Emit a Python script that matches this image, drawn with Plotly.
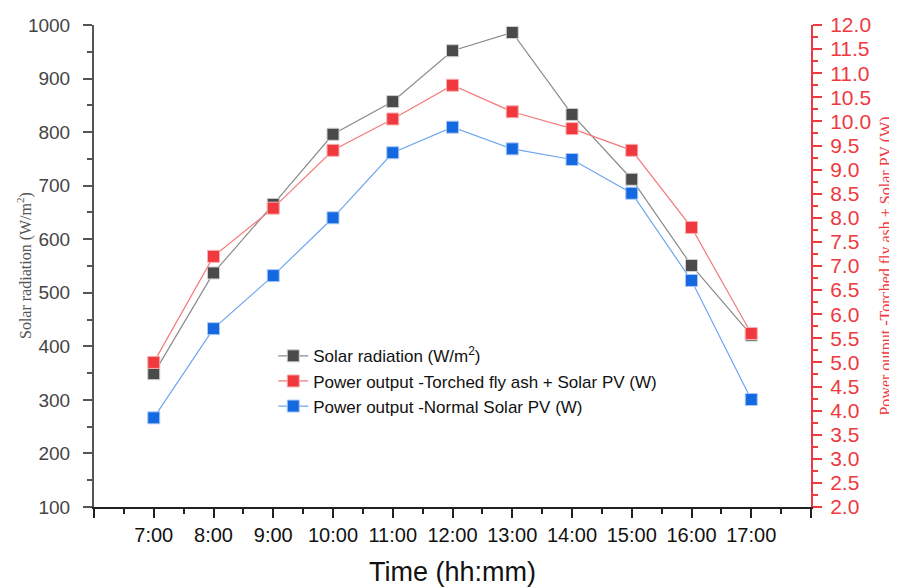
import plotly.graph_objects as go

times = ["7:00", "8:00", "9:00", "10:00", "11:00", "12:00", "13:00", "14:00", "15:00", "16:00", "17:00"]
solar_radiation = [349, 537, 665, 796, 857, 952, 986, 833, 712, 551, 421]
power_torched = [5.0, 7.2, 8.2, 9.4, 10.05, 10.75, 10.2, 9.85, 9.4, 7.8, 5.6]
power_normal = [3.85, 5.7, 6.8, 8.0, 9.35, 9.88, 9.43, 9.21, 8.51, 6.7, 4.23]

x_idx = list(range(len(times)))
tick_vals = [-1] + x_idx + [len(times)]
tick_text = [""] + times + [""]

fig = go.Figure()
fig.add_trace(go.Scatter(
    x=x_idx, y=solar_radiation, mode="lines+markers",
    name="Solar radiation (W/m<sup>2</sup>)",
    line=dict(color="#8a8a8a", width=1.2),
    marker=dict(symbol="square", size=12, color="#4a4a4a", line=dict(color="#cfcfcf", width=1)),
    yaxis="y"))
fig.add_trace(go.Scatter(
    x=x_idx, y=power_torched, mode="lines+markers",
    name="Power output -Torched fly ash + Solar PV (W)",
    line=dict(color="#f47a7a", width=1.2),
    marker=dict(symbol="square", size=12, color="#f0393f", line=dict(color="#f9b0b0", width=1)),
    yaxis="y2"))
fig.add_trace(go.Scatter(
    x=x_idx, y=power_normal, mode="lines+markers",
    name="Power output -Normal Solar PV (W)",
    line=dict(color="#6ea5f0", width=1.2),
    marker=dict(symbol="square", size=12, color="#1569e0", line=dict(color="#a9c9f5", width=1)),
    yaxis="y2"))

fig.add_annotation(
    text="Solar radiation (W/m<sup>2</sup>)", xref="paper", yref="paper",
    x=(24 - 94) / 717, y=0.5, xanchor="center", yanchor="middle", textangle=-90,
    showarrow=False,
    font=dict(size=16, family="Liberation Serif, Times New Roman, serif", color="#555"))

fig.update_layout(
    width=889, height=579,
    margin=dict(l=86, r=86, t=17, b=80),
    paper_bgcolor="white", plot_bgcolor="white",
    font=dict(family="Liberation Sans, Arial, sans-serif", color="#222"),
    showlegend=True,
    legend=dict(x=0.25, y=0.35, xanchor="left", yanchor="top",
                font=dict(size=17, color="#111"), bgcolor="rgba(0,0,0,0)",
                tracegroupgap=0, itemwidth=30),
    xaxis=dict(
        range=[-1, len(times)], tickmode="array", tickvals=tick_vals, ticktext=tick_text,
        automargin=False,
        showgrid=False, zeroline=False, showline=True, linecolor="#222", linewidth=2,
        ticks="outside", ticklen=9, tickwidth=1.5, tickcolor="#222",
        tickfont=dict(size=20, color="#111"),
        minor=dict(tickmode="linear", tick0=-1, dtick=0.5, ticks="outside", ticklen=5, tickcolor="#222", tickwidth=1.5),
        title=dict(text="Time (hh:mm)", font=dict(size=27, color="#111"), standoff=20),
    ),
    yaxis=dict(
        range=[100, 1000], dtick=100, tick0=100, automargin=False,
        showgrid=False, zeroline=False, showline=True, linecolor="#555", linewidth=2,
        ticks="outside", ticklen=9, tickwidth=1.5, tickcolor="#555",
        tickfont=dict(size=19, color="#444"), ticklabelstandoff=9,
        minor=dict(dtick=50, tick0=100, ticks="outside", ticklen=5, tickcolor="#555", tickwidth=1.5),
    ),
    yaxis2=dict(
        range=[2, 12], dtick=0.5, tick0=2, tickformat=".1f", overlaying="y", side="right",
        automargin=False,
        showgrid=False, zeroline=False, showline=True, linecolor="#f0393f", linewidth=2,
        ticks="outside", ticklen=9, tickwidth=1.5, tickcolor="#f0393f",
        tickfont=dict(size=21, color="#f0393f"), ticklabelstandoff=4,
        minor=dict(dtick=0.25, tick0=2, ticks="outside", ticklen=5, tickcolor="#f0393f", tickwidth=1.5),
        title=dict(text="Power output -Torched fly ash + Solar PV (W)",
                   font=dict(size=16, family="Liberation Serif, Times New Roman, serif", color="#f0393f"),
                   standoff=10),
    ),
)

fig.write_html("out.html")
